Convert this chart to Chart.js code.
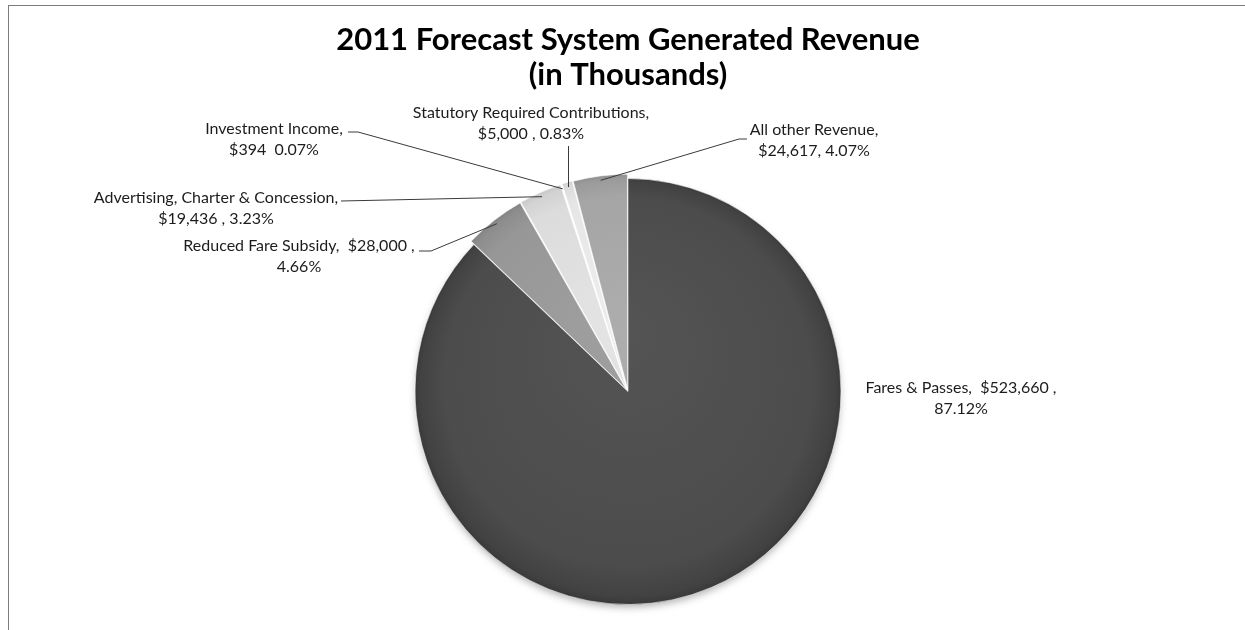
<!DOCTYPE html>
<html>
<head>
<meta charset="utf-8">
<title>2011 Forecast System Generated Revenue</title>
<script src="https://cdn.jsdelivr.net/npm/chart.js@4.4.1/dist/chart.umd.min.js"></script>
<style>
  html, body { margin: 0; padding: 0; background: #fff; }
  #wrap { position: relative; width: 1245px; height: 630px; overflow: hidden; }
  #frame {
    position: absolute; left: 8px; top: 5px; right: -4px; bottom: -4px;
    border-top: 1px solid #7c7c7c; border-left: 1px solid #7c7c7c;
  }
  canvas { position: absolute; left: 0; top: 0; }
</style>
</head>
<body>
<div id="wrap">
  <div id="frame"></div>
  <canvas id="revenueChart" width="1245" height="630"></canvas>
</div>
<script>
// revenue in thousands of dollars, clockwise from 12 o'clock
const categories = [
  "Fares & Passes",
  "Reduced Fare Subsidy",
  "Advertising, Charter & Concession",
  "Investment Income",
  "Statutory Required Contributions",
  "All other Revenue"
];
const revenue = [523660, 28000, 19436, 394, 5000, 24617];
const shares = ["87.12%", "4.66%", "3.23%", "0.07%", "0.83%", "4.07%"];
const sliceColors = ["#4c4c4c", "#979797", "#dcdcdc", "#f3f3f3", "#e6e6e6", "#a5a5a5"];

const money = (v) => "$" + v.toLocaleString("en-US");

// label text + where it sits; leader runs from the slice rim to `edge`
const labelSetup = [
  { lines: (n, v, p) => [`${n},  ${money(v)} ,`, p], x: 961, y: 388 },
  { lines: (n, v, p) => [`${n},  ${money(v)} ,`, p], x: 299, y: 246, edge: [419, 251], elbow: 12 },
  { lines: (n, v, p) => [`${n},`, `${money(v)} , ${p}`], x: 216, y: 198, edge: [341, 201], elbow: 0 },
  { lines: (n, v, p) => [`${n},`, `${money(v)}  ${p}`], x: 274, y: 129, edge: [348, 132], elbow: 10 },
  { lines: (n, v, p) => [`${n},`, `${money(v)} , ${p}`], x: 531, y: 113, vertical: 146 },
  { lines: (n, v, p) => [`${n},`, `${money(v)}, ${p}`], x: 814, y: 130, edge: [747, 139], elbow: -8 }
];

function shade(hex, amt) {
  const n = parseInt(hex.slice(1), 16);
  const c = [(n >> 16) & 255, (n >> 8) & 255, n & 255].map((x) =>
    Math.max(0, Math.min(255, Math.round(x + amt)))
  );
  return `rgb(${c[0]},${c[1]},${c[2]})`;
}

// soft rim on each slice
function sliceFill(context) {
  const chart = context.chart;
  const area = chart.chartArea;
  const base = sliceColors[context.dataIndex];
  if (!area) return base;
  const cx = (area.left + area.right) / 2;
  const cy = (area.top + area.bottom) / 2;
  const r = (Math.min(area.width, area.height) - 11) / 2;
  const g = chart.ctx.createRadialGradient(cx, cy - r * 0.3, 0, cx, cy, r + 3);
  g.addColorStop(0, shade(base, 8));
  g.addColorStop(0.85, base);
  g.addColorStop(0.96, shade(base, -10));
  g.addColorStop(1, shade(base, -22));
  return g;
}

const pieShadow = {
  id: "pieShadow",
  beforeDatasetsDraw(chart) {
    const arc = chart.getDatasetMeta(0).data[0];
    if (!arc) return;
    const ctx = chart.ctx;
    ctx.save();
    ctx.shadowColor = "rgba(0,0,0,0.35)";
    ctx.shadowBlur = 9;
    ctx.shadowOffsetY = 4;
    ctx.fillStyle = "#fff";
    ctx.beginPath();
    ctx.arc(arc.x, arc.y, arc.outerRadius - 2, 0, Math.PI * 2);
    ctx.fill();
    ctx.restore();
  }
};

const sliceLabels = {
  id: "sliceLabels",
  afterDraw(chart) {
    const ctx = chart.ctx;
    const arcs = chart.getDatasetMeta(0).data;
    ctx.save();
    ctx.font = "16px Lato, sans-serif";
    ctx.fillStyle = "#1c1c1c";
    ctx.textAlign = "center";
    ctx.textBaseline = "middle";
    ctx.strokeStyle = "#3a3a3a";
    ctx.lineWidth = 1;

    arcs.forEach((arc, i) => {
      const s = labelSetup[i];
      const lines = s.lines(categories[i], revenue[i], shares[i]);
      ctx.fillText(lines[0], s.x, s.y);
      ctx.fillText(lines[1], s.x, s.y + 21);

      const mid = (arc.startAngle + arc.endAngle) / 2;
      const rx = arc.x + Math.cos(mid) * arc.outerRadius;
      const ry = arc.y + Math.sin(mid) * arc.outerRadius;
      if (s.edge) {
        ctx.beginPath();
        ctx.moveTo(s.edge[0], s.edge[1]);
        ctx.lineTo(s.edge[0] + s.elbow, s.edge[1]);
        ctx.lineTo(rx, ry);
        ctx.stroke();
      } else if (s.vertical) {
        ctx.beginPath();
        ctx.moveTo(Math.round(rx) + 0.5, ry);
        ctx.lineTo(Math.round(rx) + 0.5, s.vertical);
        ctx.stroke();
      }
    });
    ctx.restore();
  }
};

new Chart(document.getElementById("revenueChart"), {
  type: "pie",
  data: {
    labels: categories,
    datasets: [
      {
        data: revenue,
        backgroundColor: sliceFill,
        borderColor: "rgba(255,255,255,0.55)",
        borderWidth: 1,
        offset: [0, 10, 10, 10, 10, 10]
      }
    ]
  },
  options: {
    responsive: false,
    animation: false,
    layout: { padding: { left: 11, right: 0, top: 0, bottom: 20 } },
    plugins: {
      legend: { display: false },
      tooltip: { enabled: false },
      title: {
        display: true,
        text: ["2011 Forecast System Generated Revenue", "(in Thousands)"],
        color: "#000",
        font: { family: "Lato, sans-serif", size: 31, weight: "bold", lineHeight: 1.13 },
        padding: { top: 22.5, bottom: 80.5 }
      }
    }
  },
  plugins: [pieShadow, sliceLabels]
});
</script>
</body>
</html>
